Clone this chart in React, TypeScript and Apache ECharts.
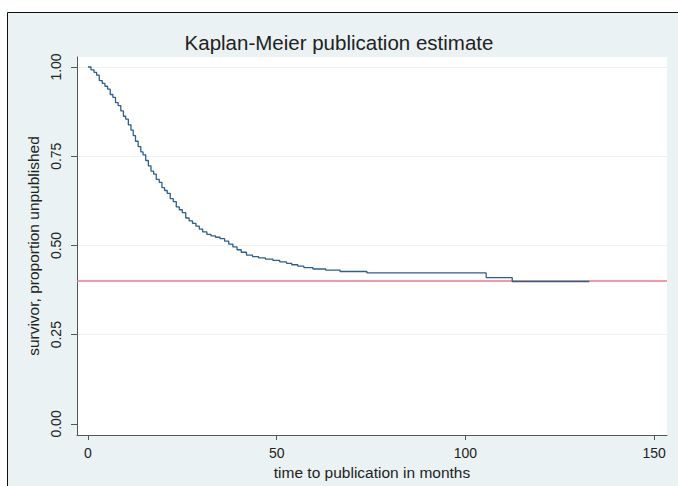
import React, { useEffect, useRef } from "react";
import * as echarts from "echarts";

const titleText = "Kaplan-Meier publication estimate";
const xTitle = "time to publication in months";
const yTitle = "survivor, proportion unpublished";
const xTicks = [0, 50, 100, 150];
const yTicks = [0, 0.25, 0.5, 0.75, 1];
const refLevel = 0.4;

// step times (months) and survivor estimate after each step
const times = [
  0, 0.8, 1.6, 2.3, 3.0, 3.8, 4.5, 5.2, 5.9, 6.6, 7.3, 8.0, 8.7, 9.4, 10.0, 10.7,
  11.4, 12.0, 12.6, 13.3, 14.0, 14.6, 15.3, 16.0, 16.7, 17.4, 18.1, 18.9, 19.6,
  20.3, 21.0, 21.8, 22.6, 23.4, 24.2, 25.0, 25.9, 26.8, 27.7, 28.6, 29.5, 30.4,
  31.5, 32.6, 33.8, 35.0, 36.2, 37.3, 38.4, 39.5, 40.6, 42.0, 43.6, 45.2, 47.0,
  49.0, 50.8, 52.6, 54.0, 55.6, 57.2, 59.6, 63.0, 66.8, 73.9, 105.5, 112.4, 132.8,
];
const survival = [
  1.0, 0.992, 0.985, 0.977, 0.962, 0.954, 0.946, 0.938, 0.923, 0.915, 0.9, 0.892,
  0.877, 0.862, 0.854, 0.838, 0.823, 0.808, 0.792, 0.777, 0.762, 0.754, 0.738,
  0.723, 0.708, 0.7, 0.685, 0.677, 0.662, 0.654, 0.646, 0.631, 0.623, 0.608, 0.6,
  0.592, 0.577, 0.569, 0.562, 0.554, 0.546, 0.538, 0.531, 0.527, 0.523, 0.519,
  0.512, 0.504, 0.496, 0.488, 0.481, 0.473, 0.469, 0.465, 0.462, 0.458, 0.454,
  0.45, 0.446, 0.442, 0.438, 0.434, 0.431, 0.427, 0.423, 0.41, 0.399, 0.399,
];

const FONT = "'Liberation Sans', Arial, Helvetica, sans-serif";

export default function App() {
  const ref = useRef<HTMLDivElement>(null);
  useEffect(() => {
    if (!ref.current) return;
    const chart = echarts.init(ref.current, null, { renderer: "svg" });
    const data = times.map((t, i) => [t, survival[i]]);
    chart.setOption({
      animation: false,
      backgroundColor: "#ffffff",
      textStyle: { fontFamily: FONT },
      graphic: [
        {
          type: "rect",
          z: -10,
          silent: true,
          shape: { x: 7.5, y: 12.5, width: 700, height: 500 },
          style: { fill: "#EAF2F3", stroke: "#111111", lineWidth: 1 },
        },
      ],
      title: {
        text: titleText,
        left: 334,
        textAlign: "center",
        top: 27,
        textStyle: { fontFamily: FONT, fontSize: 20.5, fontWeight: "normal", color: "#222" },
      },
      grid: {
        left: 77,
        right: 11,
        top: 57,
        bottom: 51,
        show: true,
        backgroundColor: "#ffffff",
        borderWidth: 0,
        z: 0,
      },
      xAxis: {
        type: "value",
        min: -2.9,
        max: 153.4,
        name: xTitle,
        nameLocation: "middle",
        nameGap: 28,
        nameTextStyle: { fontFamily: FONT, fontSize: 15.5, color: "#222" },
        axisLine: { show: true, onZero: false, lineStyle: { color: "#555", width: 1 } },
        axisTick: { show: true, customValues: xTicks, length: 5, lineStyle: { color: "#555" } },
        axisLabel: { customValues: xTicks, margin: 11, fontFamily: FONT, fontSize: 14, color: "#222" },
        splitLine: { show: false },
      },
      yAxis: {
        type: "value",
        min: -0.031,
        max: 1.028,
        name: yTitle,
        nameLocation: "middle",
        nameGap: 34,
        nameTextStyle: { fontFamily: FONT, fontSize: 15.5, color: "#222" },
        axisLine: { show: true, onZero: false, lineStyle: { color: "#555", width: 1 } },
        axisTick: { show: true, customValues: yTicks, length: 6, lineStyle: { color: "#555" } },
        axisLabel: {
          customValues: yTicks,
          rotate: 90,
          margin: 14,
          fontFamily: FONT,
          fontSize: 14,
          color: "#222",
          formatter: (v: number) => v.toFixed(2),
        },
        splitLine: {
          show: true,
          lineStyle: { color: ["#ffffff", "#EAF2F3", "#EAF2F3", "#EAF2F3", "#EAF2F3"], width: 1 },
        },
      },
      series: [
        {
          type: "line",
          step: "end",
          data,
          symbol: "none",
          lineStyle: { color: "#2D5F8B", width: 1.3 },
          z: 3,
          markLine: {
            silent: true,
            symbol: "none",
            label: { show: false },
            lineStyle: { color: "#E9788E", width: 1.6, type: "solid" },
            data: [{ yAxis: refLevel }],
            z: 2,
          },
        },
      ],
    });
    return () => chart.dispose();
  }, []);
  return (
    <div
      ref={ref}
      style={{ position: "fixed", left: 0, top: 0, width: 678, height: 486 }}
    />
  );
}
